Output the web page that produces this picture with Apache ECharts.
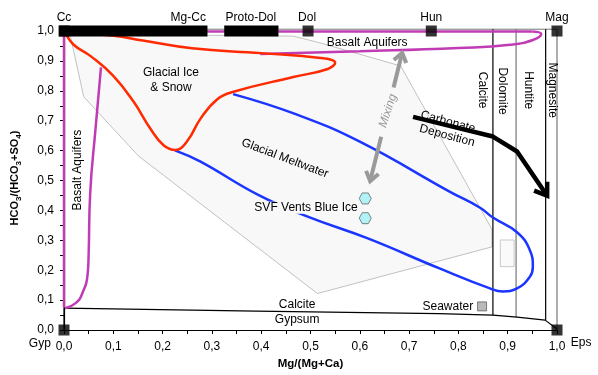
<!DOCTYPE html>
<html><head><meta charset="utf-8">
<script src="https://cdn.jsdelivr.net/npm/echarts@6/dist/echarts.min.js"></script>
<style>html,body{margin:0;padding:0;background:#fff}#c{width:598px;height:375px}</style>
</head><body><div id="c"></div>
<script>
// ---------- data: x = Mg/(Mg+Ca), y = HCO3/(HCO3+SO4) ----------
const xTickValues = [0,0.1,0.2,0.3,0.4,0.5,0.6,0.7,0.8,0.9,1.0];
const yTickValues = [0,0.1,0.2,0.3,0.4,0.5,0.6,0.7,0.8,0.9,1.0];
const glacialIceSnow = [[0.003,0.993],[0.10,0.984],[0.16,0.968],[0.26,0.942],[0.40,0.926],[0.52,0.910],[0.55,0.894],[0.535,0.873],[0.465,0.846],[0.344,0.797],[0.311,0.772],[0.277,0.707],[0.250,0.632],[0.226,0.602],[0.202,0.618],[0.175,0.674],[0.141,0.764],[0.100,0.850],[0.054,0.916],[0.019,0.955],[0.003,0.993]];
const glacialMeltwater = [[0.343,0.789],[0.470,0.722],[0.600,0.630],[0.783,0.462],[0.844,0.409],[0.870,0.376],[0.919,0.327],[0.945,0.267],[0.951,0.211],[0.945,0.178],[0.919,0.139],[0.890,0.129],[0.864,0.139],[0.763,0.205],[0.615,0.307],[0.493,0.380],[0.394,0.452],[0.276,0.564],[0.225,0.601]];
const basaltTopStraight = [[0,0.998],[0.95,0.998]];
const basaltTopCurve = [[0.95,0.998],[0.968,0.990],[0.951,0.970],[0.905,0.954],[0.80,0.943],[0.60,0.932],[0.398,0.923]];
const basaltLeftStraight = [[0,0.998],[0,0.075]];
const basaltLeftCurve = [[0.002,0.073],[0.023,0.089],[0.037,0.122],[0.048,0.188],[0.050,0.255],[0.053,0.453],[0.064,0.674],[0.075,0.878]];
const fieldPolygon = [[0.012,0.990],[0.465,0.983],[0.52,0.960],[0.683,0.883],[0.868,0.337],[0.868,0.278],[0.514,0.122],[0.151,0.582],[0.040,0.780]];
const gypsumBoundary = [[0,0.073],[0.39,0.063],[0.76,0.055],[0.87,0.050],[0.919,0.043],[0.976,0.033],[1.0,0.003]];
const mineralLinesX = [0.870,0.917,0.977,1.0];
const mineralLinesBottom = [0.050,0.043,0.033,0.0];
const topBars = [[-0.01,0.291],[0.325,0.435]];
const endMembers = [[0,1],[0.495,1],[0.745,1],[1,1],[0,0],[1,0]];
const blueIce = [[0.611,0.440],[0.611,0.374]];
const seawater = [[0.848,0.079]];
const smallBox = [[0.885,0.212],[0.913,0.301]];
const mixingArrow = [[0.686,0.927],[0.621,0.498]];
const carbonateArrow = [[0.708,0.713],[0.870,0.647],[0.919,0.597],[0.980,0.449]];

// ---------- annotation layout ----------
const F = "'Liberation Sans', Arial, sans-serif";
const notes = [
 {t:'Cc',x:0,y:1.045},{t:'Mg-Cc',x:0.252,y:1.045},{t:'Proto-Dol',x:0.379,y:1.045},
 {t:'Dol',x:0.493,y:1.045},{t:'Hun',x:0.745,y:1.045},{t:'Mag',x:1.0,y:1.045},
 {t:'Gyp',x:-0.049,y:-0.046},{t:'Eps',x:1.049,y:-0.043},
 {t:'Glacial Ice',x:0.217,y:0.861},{t:'& Snow',x:0.217,y:0.812},
 {t:'Basalt Aquifers',x:0.615,y:0.961},
 {t:'Basalt Aquifers',x:0.028,y:0.535,r:90},
 {t:'Glacial Meltwater',x:0.448,y:0.574,r:-20.7},
 {t:'SVF Vents Blue Ice',x:0.491,y:0.409,bg:'#f9f9f9'},
 {t:'Mixing',x:0.657,y:0.733,r:72,c:'#999',it:true},
 {t:'Carbonate',x:0.779,y:0.696,r:-15},
 {t:'Deposition',x:0.777,y:0.650,r:-15},
 {t:'Calcite',x:0.848,y:0.802,r:-90},
 {t:'Dolomite',x:0.890,y:0.799,r:-90},
 {t:'Huntite',x:0.941,y:0.802,r:-90},
 {t:'Magnesite',x:0.990,y:0.802,r:-90},
 {t:'Calcite',x:0.473,y:0.086},
 {t:'Gypsum',x:0.473,y:0.033},
 {t:'Seawater',x:0.830,y:0.079,a:'right'}
];

const fmt = v => v.toFixed(1).replace('.', ',');
const lineS = (data, color, width, smooth, z) => ({
  type:'line', data, smooth: smooth || false, symbol:'none', clip:false, z: z||3,
  lineStyle:{color, width}, silent:true, animation:false
});

function chevron(tip, from, len, ang) {
  const dx = tip[0]-from[0], dy = tip[1]-from[1];
  const L = Math.hypot(dx,dy), ux = dx/L, uy = dy/L;
  const p = a => [tip[0] - len*(ux*Math.cos(a) - uy*Math.sin(a)), tip[1] - len*(uy*Math.cos(a) + ux*Math.sin(a))];
  return [p(ang), tip, p(-ang)];
}

const chart = echarts.init(document.getElementById('c'), null, {renderer:'canvas'});
const series = [];

// polygon field
series.push({type:'custom', coordinateSystem:'cartesian2d', data:[[0,0]], z:1, silent:true, animation:false,
  renderItem:(p, api) => ({type:'polygon', shape:{points: fieldPolygon.map(q=>api.coord(q))},
    style:{fill:'#f8f8f8', stroke:'#a8a8a8', lineWidth:0.7}})});
// small box
series.push({type:'custom', coordinateSystem:'cartesian2d', data:[[0,0]], z:1, silent:true, animation:false,
  renderItem:(p, api) => { const a = api.coord(smallBox[0]), b = api.coord(smallBox[1]);
    return {type:'rect', shape:{x:a[0], y:b[1], width:b[0]-a[0], height:a[1]-b[1]}, style:{fill:'#fafafa', stroke:'#c8c8c8', lineWidth:1}}; }});
// top grey border
series.push(lineS([[0,1.006],[1,1.006]], '#777', 1, false, 2));
// mineral vertical lines
mineralLinesX.forEach((x,i) => series.push(lineS([[x,1.006],[x,mineralLinesBottom[i]]], i%2 ? '#777' : '#000', 1.2, false, 2)));
// gypsum/calcite boundary
series.push(lineS(gypsumBoundary, '#000', 1.2, false, 2));
series.push(lineS([[0,0],[0,0.075]], '#000', 1.2, false, 2));
// magenta basalt aquifers
series.push(lineS(basaltTopStraight, '#c03cb4', 2.5, false, 3));
series.push(lineS(basaltTopCurve, '#c03cb4', 2.5, 0.5, 3));
series.push(lineS(basaltLeftStraight, '#c03cb4', 2.5, false, 3));
series.push(lineS(basaltLeftCurve, '#c03cb4', 2.5, 0.5, 3));
// blue + red
series.push(lineS(glacialMeltwater, '#1a35ff', 2.5, 0.45, 4));
series.push(lineS(glacialIceSnow, '#ff2a00', 2.5, 0.45, 5));
// arrows
series.push({type:'custom', coordinateSystem:'cartesian2d', data:[[0,0]], z:6, silent:true, animation:false,
  renderItem:(p, api) => {
    const top = api.coord(mixingArrow[0]), bot = api.coord(mixingArrow[1]);
    const lerp = t => [top[0]+(bot[0]-top[0])*t, top[1]+(bot[1]-top[1])*t];
    const m1 = lerp(0.27), m2 = lerp(0.655);
    const gs = {stroke:'#9a9a9a', lineWidth:4, fill:null, lineJoin:'miter'};
    const cp = carbonateArrow.map(q=>api.coord(q));
    const bs = {stroke:'#000', lineWidth:4.5, fill:null, lineJoin:'round'};
    return {type:'group', children:[
      {type:'polyline', shape:{points:[top,m1]}, style:gs},
      {type:'polyline', shape:{points:[m2,bot]}, style:gs},
      {type:'polyline', shape:{points:chevron(top,bot,11,0.62)}, style:gs},
      {type:'polyline', shape:{points:chevron(bot,top,11,0.62)}, style:gs},
      {type:'polyline', shape:{points:cp}, style:bs},
      {type:'polyline', shape:{points:chevron(cp[cp.length-1], cp[cp.length-2], 14, 0.6)}, style:Object.assign({}, bs, {lineJoin:'miter'})}
    ]};
  }});
// top bars
series.push({type:'custom', coordinateSystem:'cartesian2d', data:topBars.map(b=>[b[0],b[1]]), z:7, silent:true, animation:false, clip:false,
  renderItem:(p, api) => { const a = api.coord([api.value(0),1]), b = api.coord([api.value(1),1]);
    return {type:'rect', shape:{x:a[0], y:a[1]-5.5, width:b[0]-a[0], height:11}, style:{fill:'#000'}}; }});
// end member squares
series.push({type:'scatter', data:endMembers, symbol:'rect', symbolSize:11, itemStyle:{color:'#000'}, z:8, clip:false, silent:true, animation:false});
// blue ice hexagons
series.push({type:'scatter', data:blueIce, symbol:'path://M-1,0 L-0.5,-0.87 L0.5,-0.87 L1,0 L0.5,0.87 L-0.5,0.87 Z', symbolSize:[12,11],
  itemStyle:{color:'#9ff0f6', borderColor:'#444', borderWidth:0.8}, z:8, silent:true, animation:false});
// seawater
series.push({type:'scatter', data:seawater, symbol:'rect', symbolSize:9, itemStyle:{color:'#a8a8a8', borderColor:'#444', borderWidth:0.8}, z:8, silent:true, animation:false});
// annotations
series.push({type:'custom', coordinateSystem:'cartesian2d', data:notes.map(n=>[n.x,n.y]), z:9, silent:true, animation:false, clip:false,
  renderItem:(p, api) => { const n = notes[p.dataIndex]; const c = api.coord([n.x,n.y]);
    return {type:'text', x:c[0], y:c[1], rotation:(n.r||0)*Math.PI/180,
      style:{text:n.t, fill:n.c||'#000', fontSize:12, fontFamily:F, fontStyle:n.it?'italic':'normal',
        align:n.a||'center', verticalAlign:'middle', backgroundColor:n.bg||'transparent', padding:n.bg?[0,1]:0}}; }});

chart.setOption({
  animation:false,
  grid:{left:64, top:31, width:493, height:303, containLabel:false},
  xAxis:{type:'value', min:0, max:1, interval:0.1,
    axisLine:{show:true, onZero:false, lineStyle:{color:'#000', width:1.2}},
    axisTick:{show:true, length:4, lineStyle:{color:'#000'}},
    minorTick:{show:true, splitNumber:2, length:4, lineStyle:{color:'#000'}},
    splitLine:{show:false},
    axisLabel:{formatter:fmt, color:'#000', fontSize:12, fontFamily:F, margin:11, showMaxLabel:true, showMinLabel:true},
    name:'Mg/(Mg+Ca)', nameLocation:'middle', nameGap:28,
    nameTextStyle:{color:'#000', fontSize:11.5, fontWeight:'bold', fontFamily:F}},
  yAxis:{type:'value', min:0, max:1, interval:0.1,
    axisLine:{show:true, onZero:false, lineStyle:{color:'#000', width:1.2}},
    axisTick:{show:true, length:4, lineStyle:{color:'#000'}},
    minorTick:{show:true, splitNumber:2, length:4, lineStyle:{color:'#000'}},
    splitLine:{show:false},
    axisLabel:{formatter:fmt, color:'#000', fontSize:12, fontFamily:F, margin:10}},
  graphic:[{type:'text', x:15, y:178, rotation:Math.PI/2,
    style:{text:'{b|HCO}{s|3}{b|/(HCO}{s|3}{b|+SO}{s|4}{b|)}', align:'center', verticalAlign:'middle',
      rich:{b:{fontSize:11, fontWeight:'bold', fontFamily:F, lineHeight:16, fill:'#000'},
            s:{fontSize:8, fontWeight:'bold', fontFamily:F, lineHeight:8, verticalAlign:'bottom', fill:'#000'}}}}],
  series
});
</script></body></html>
